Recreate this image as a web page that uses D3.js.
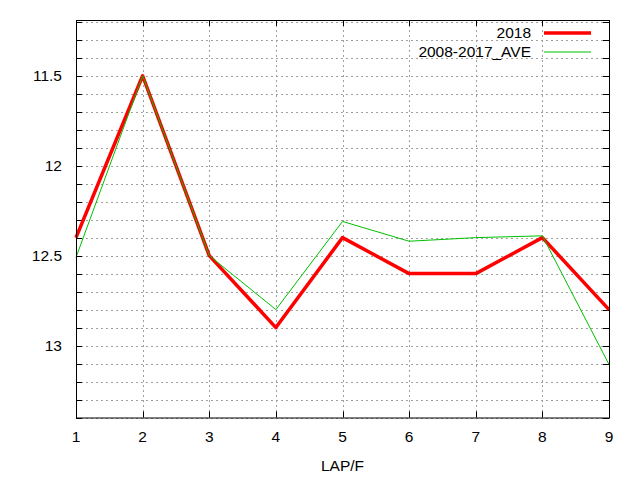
<!DOCTYPE html>
<meta charset="utf-8">
<style>
    body { margin: 0; background: #fff; }
    svg { display: block; font-family: "Liberation Sans", Arial, sans-serif; }
    .grid line { stroke: #a0a0a0; stroke-width: 1; stroke-dasharray: 2,3; }
    .tick-label { font-size: 15.5px; fill: #000; }
</style>
<body></body>
<script src="https://d3js.org/d3.v7.min.js"></script>
<script>

var laps = [1, 2, 3, 4, 5, 6, 7, 8, 9];
var y2018 = [12.4, 11.5, 12.5, 12.9, 12.4, 12.6, 12.6, 12.4, 12.8];
var yAve = [12.51, 11.5, 12.5, 12.8, 12.31, 12.42, 12.40, 12.39, 13.105];
var seriesNames = ["2018", "2008-2017_AVE"];
var yLabelTicks = [11.5, 12, 12.5, 13];
var xTitle = "LAP/F";

var W = 640, H = 480;
var plotL = 76, plotR = 609, plotT = 20, plotB = 417.5;

var svg = d3.select("body").append("svg")
    .attr("width", W)
    .attr("height", H);

var x = d3.scaleLinear().domain([1, 9]).range([plotL, plotR]);
// y axis runs reversed: small times at top
var y = d3.scaleLinear().domain([11.19, 13.4]).range([plotT, plotB]);

var minorTicks = d3.range(11.2, 13.41, 0.1).map(function(v) { return +v.toFixed(1); });

// grid
var grid = svg.append("g").attr("class", "grid");
grid.selectAll(".gy").data(minorTicks).enter().append("line")
    .attr("x1", plotL).attr("x2", plotR)
    .attr("y1", function(d) { return Math.round(y(d)) + 0.5; })
    .attr("y2", function(d) { return Math.round(y(d)) + 0.5; });
grid.selectAll(".gx").data(laps.slice(1, -1)).enter().append("line")
    .attr("x1", function(d) { return Math.round(x(d)) + 0.5; })
    .attr("x2", function(d) { return Math.round(x(d)) + 0.5; })
    .attr("y1", plotT).attr("y2", plotB);

// ticks on all four sides, pointing inwards
var ticks = svg.append("g").attr("stroke", "#000").attr("stroke-width", 1);
minorTicks.forEach(function(d) {
    var yy = Math.round(y(d)) + 0.5;
    ticks.append("line").attr("x1", plotL).attr("x2", plotL + 6).attr("y1", yy).attr("y2", yy);
    ticks.append("line").attr("x1", plotR - 6).attr("x2", plotR).attr("y1", yy).attr("y2", yy);
});
laps.forEach(function(d) {
    var xx = Math.round(x(d)) + 0.5;
    ticks.append("line").attr("x1", xx).attr("x2", xx).attr("y1", plotB).attr("y2", plotB - 6);
    ticks.append("line").attr("x1", xx).attr("x2", xx).attr("y1", plotT).attr("y2", plotT + 6);
});

// tick labels
svg.selectAll(".ylab").data(yLabelTicks).enter().append("text")
    .attr("class", "tick-label")
    .attr("x", 62)
    .attr("y", function(d) { return y(d); })
    .attr("dy", "0.35em")
    .attr("text-anchor", "end")
    .text(function(d) { return d; });

svg.selectAll(".xlab").data(laps).enter().append("text")
    .attr("class", "tick-label")
    .attr("x", function(d) { return x(d); })
    .attr("y", 442)
    .attr("text-anchor", "middle")
    .text(function(d) { return d; });

svg.append("text")
    .attr("class", "tick-label")
    .attr("x", (plotL + plotR) / 2)
    .attr("y", 471)
    .attr("text-anchor", "middle")
    .text(xTitle);

// lines
var line = d3.line()
    .x(function(d, i) { return x(laps[i]); })
    .y(function(d) { return y(d); });

svg.append("path")
    .datum(y2018)
    .attr("fill", "none")
    .attr("stroke", "#ff0000")
    .attr("stroke-width", 3.5)
    .attr("stroke-linejoin", "round")
    .attr("d", line);

svg.append("path")
    .datum(yAve)
    .attr("fill", "none")
    .attr("stroke", "#00c000")
    .attr("stroke-width", 1)
    .attr("d", line);

// border
svg.append("rect")
    .attr("x", plotL + 0.5).attr("y", plotT + 0.5)
    .attr("width", plotR - plotL).attr("height", plotB - plotT)
    .attr("fill", "none").attr("stroke", "#000");

// legend
var legColors = ["#ff0000", "#00c000"], legWidths = [3.5, 1];
seriesNames.forEach(function(name, i) {
    var ly = 33 + i * 19;
    svg.append("text")
        .attr("class", "tick-label")
        .attr("x", 531).attr("y", ly)
        .attr("dy", "0.35em")
        .attr("text-anchor", "end")
        .text(name);
    svg.append("line")
        .attr("x1", 544).attr("x2", 591)
        .attr("y1", ly).attr("y2", ly)
        .attr("stroke", legColors[i])
        .attr("stroke-width", legWidths[i]);
});

</script>
